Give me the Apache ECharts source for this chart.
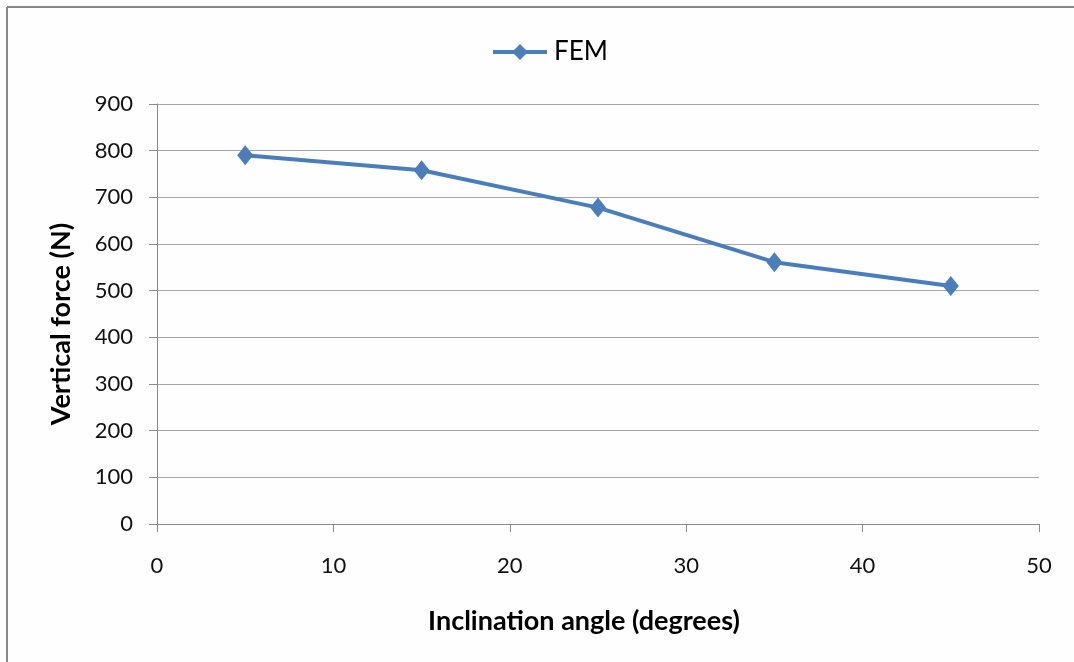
<!DOCTYPE html>
<html>
<head>
<meta charset="utf-8">
<script src="https://cdn.jsdelivr.net/npm/echarts@6/dist/echarts.min.js"></script>
<style>
html,body{margin:0;padding:0;background:#fff;}
#chart{width:1074px;height:662px;}
</style>
</head>
<body>
<div id="chart"></div>
<script>
var seriesName = 'FEM';
var angles = [5, 15, 25, 35, 45];
var verticalForce = [790, 758, 678, 561, 510];
var xTitle = 'Inclination angle (degrees)';
var yTitle = 'Vertical force (N)';

var chart = echarts.init(document.getElementById('chart'));
var font = 'Lato, "Open Sans", sans-serif';
chart.setOption({
  backgroundColor: '#fefefe',
  animation: false,
  graphic: [
    {type: 'line', shape: {x1: 7, y1: 7, x2: 1074, y2: 7}, style: {stroke: '#888', lineWidth: 2}},
    {type: 'line', shape: {x1: 7, y1: 7, x2: 7, y2: 662}, style: {stroke: '#888', lineWidth: 2}}
  ],
  legend: {
    top: 34,
    left: 486,
    itemWidth: 54,
    itemHeight: 20,
    itemGap: 10,
    lineStyle: {width: 4},
    textStyle: {fontFamily: font, fontSize: 26, color: '#000', padding: [0, 0, 0, 2]},
    data: [seriesName]
  },
  grid: {left: 157, right: 35, top: 104, bottom: 138, containLabel: false},
  xAxis: {
    type: 'value', min: 0, max: 50, interval: 10,
    name: xTitle, nameLocation: 'middle', nameGap: 84,
    nameTextStyle: {fontFamily: font, fontSize: 27, fontWeight: 'bold', color: '#000', padding: [0, 28, 0, 0]},
    axisLine: {show: true, lineStyle: {color: '#8a8a8a', width: 1}},
    axisTick: {show: true, inside: false, length: 8, lineStyle: {color: '#8a8a8a'}},
    axisLabel: {fontFamily: font, fontSize: 22, color: '#111', margin: 31},
    splitLine: {show: false}
  },
  yAxis: {
    type: 'value', min: 0, max: 900, interval: 100,
    name: yTitle, nameLocation: 'middle', nameGap: 82, nameRotate: 90,
    nameTextStyle: {fontFamily: font, fontSize: 27, fontWeight: 'bold', color: '#000', padding: [0, 20, 0, 0]},
    axisLine: {show: true, lineStyle: {color: '#8a8a8a', width: 1}},
    axisTick: {show: true, inside: false, length: 8, lineStyle: {color: '#8a8a8a'}},
    axisLabel: {fontFamily: font, fontSize: 22, color: '#111', margin: 24},
    splitLine: {show: true, lineStyle: {color: '#a6a6a6', width: 1}}
  },
  series: [{
    name: seriesName,
    type: 'line',
    data: angles.map(function(a, i){ return [a, verticalForce[i]]; }),
    symbol: 'diamond',
    symbolSize: [16, 20],
    lineStyle: {color: '#4a7ebb', width: 4},
    itemStyle: {color: '#4a7ebb'}
  }]
});
</script>
</body>
</html>
